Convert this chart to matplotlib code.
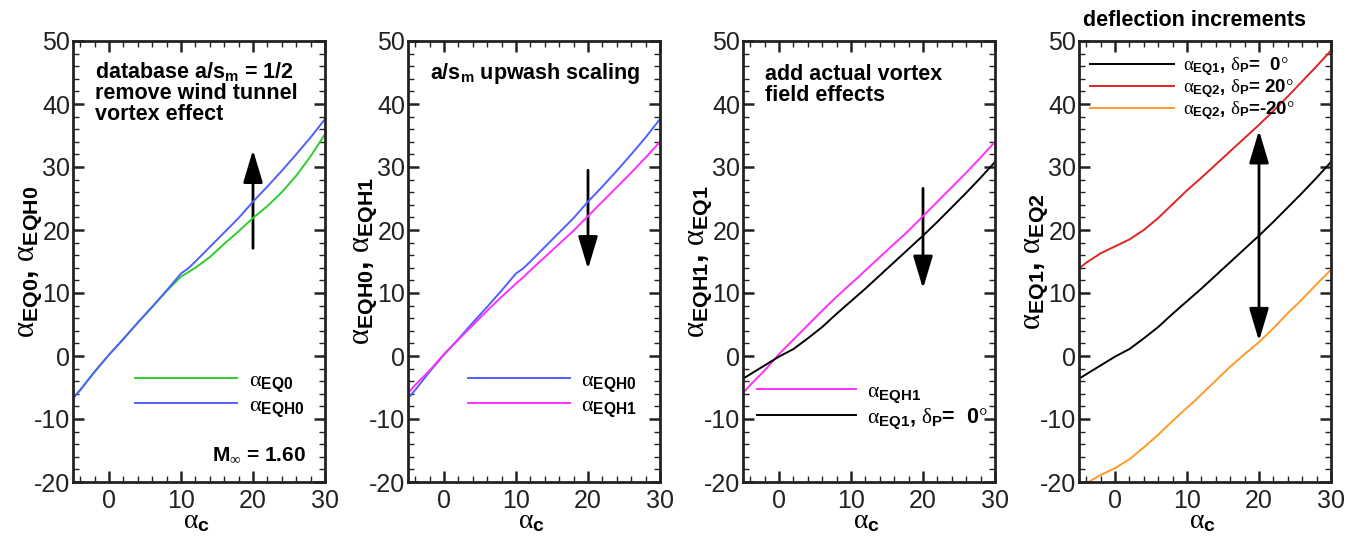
import matplotlib
matplotlib.use("Agg")
import matplotlib.pyplot as plt
from matplotlib.ticker import MultipleLocator
from matplotlib.patches import FancyArrowPatch

plt.rcParams["font.family"] = ["Liberation Sans", "DejaVu Sans"]
plt.rcParams["mathtext.fontset"] = "custom"
plt.rcParams["mathtext.rm"] = "Liberation Serif"
plt.rcParams["mathtext.it"] = "Liberation Serif:italic"
plt.rcParams["mathtext.bf"] = "Liberation Sans:bold"
plt.rcParams["mathtext.sf"] = "Liberation Sans"
plt.rcParams["axes.unicode_minus"] = False

# angle of attack sweep
alpha_c = [-5, -4, -2, 0, 2, 4, 6, 8, 10, 11, 12, 14, 16, 18, 20, 22, 24, 26, 28, 30]

a_eqh0 = [-6.7, -5.4, -2.5, 0.2, 2.7, 5.3, 7.8, 10.4, 13.1, 13.9, 15.0, 17.3,
          19.6, 21.9, 24.5, 26.9, 29.4, 32.0, 34.7, 37.6]
a_eq0 = [-6.7, -5.4, -2.5, 0.2, 2.7, 5.3, 7.8, 10.3, 12.6, 13.3, 14.0, 15.7,
         17.8, 19.8, 21.9, 23.8, 26.0, 28.6, 31.7, 35.2]
a_eqh1 = [-5.9, -4.6, -2.3, 0.3, 2.6, 4.9, 7.2, 9.4, 11.5, 12.5, 13.6, 15.7,
          17.8, 19.9, 22.2, 24.5, 26.8, 29.1, 31.5, 34.0]
a_eq1 = [-3.6, -2.9, -1.5, -0.1, 1.1, 2.8, 4.6, 6.7, 8.7, 9.7, 10.7, 12.8,
         14.9, 17.0, 19.1, 21.3, 23.6, 25.9, 28.3, 30.8]
a_eq2_p20 = [13.9, 14.8, 16.3, 17.4, 18.5, 20.0, 21.9, 24.1, 26.3, 27.3, 28.3, 30.4,
             32.5, 34.6, 36.7, 38.9, 41.2, 43.6, 46.0, 48.5]
a_eq2_m20 = [-20.8, -20.2, -18.9, -17.8, -16.4, -14.5, -12.5, -10.3, -8.2, -7.2, -6.1, -3.9,
             -1.7, 0.3, 2.2, 4.4, 6.8, 9.0, 11.4, 13.7]

C_GREEN = "#2fcc2f"
C_BLUE = "#5060ff"
C_MAG = "#ff30ff"
C_RED = "#e02424"
C_ORANGE = "#ff9a2a"


def lab(sub):
    return r"$\mathrm{\alpha}_{\mathbf{%s}}$" % sub


def lab_d(sub, defl):
    # plain-text part of the label is drawn bold through the legend prop
    return (r"$\mathrm{\alpha}_{\mathbf{%s}}$, $\mathrm{\delta}_{\mathbf{P}}$=%s$\mathrm{°}$"
            % (sub, defl))


fig = plt.figure(figsize=(13.56, 5.37), dpi=100)
lefts = [73, 408, 743, 1079]
axes = [fig.add_axes([l / 1356, 1 - 482 / 537, 252 / 1356, 441 / 537]) for l in lefts]

for ax in axes:
    ax.set_xlim(-5, 30)
    ax.set_ylim(-20, 50)
    ax.xaxis.set_major_locator(MultipleLocator(10))
    ax.xaxis.set_minor_locator(MultipleLocator(2))
    ax.yaxis.set_major_locator(MultipleLocator(10))
    ax.yaxis.set_minor_locator(MultipleLocator(2))
    ax.tick_params(which="both", direction="in", top=True, right=True, labelsize=18, colors="#222222")
    ax.tick_params(which="major", length=8, width=1.8)
    ax.tick_params(which="minor", length=4, width=1.0)
    ax.tick_params(axis="y", pad=2)
    ax.tick_params(axis="x", pad=5)
    for s in ax.spines.values():
        s.set_linewidth(2)
        s.set_color("#222222")
    ax.set_xlabel(r"$\mathrm{\alpha}_{\mathbf{c}}$", fontsize=20)
    ax.xaxis.set_label_coords(0.49, -0.06)


def arrow(ax, y0, y1, style="-|>"):
    ax.add_patch(FancyArrowPatch((20, y0), (20, y1), arrowstyle=style + ",head_length=1.0,head_width=0.3",
                                 mutation_scale=20, lw=2, color="black", shrinkA=0, shrinkB=0))


def set_ylab(ax, text):
    ax.set_ylabel(text, fontsize=22)
    ax.yaxis.set_label_coords(-0.115, 0.5)


leg_kw = dict(frameon=False, borderpad=0, borderaxespad=0,
              handletextpad=0.5, loc="upper left")

# panel 1
ax = axes[0]
ax.plot(alpha_c, a_eq0, color=C_GREEN, lw=1.4, label=lab("EQ0"))
ax.plot(alpha_c, a_eqh0, color=C_BLUE, lw=1.4, label=lab("EQH0"))
arrow(ax, 17.1, 32.7)
ax.legend(bbox_to_anchor=(0.247, 0.254), labelspacing=0.05, handlelength=4.6,
          prop={"size": 16, "weight": "bold"}, **leg_kw)
set_ylab(ax, lab("EQ0") + "$\\mathbf{,}$ " + lab("EQH0"))
ax.text(0.088, 0.957, "database a/s$_\\mathregular{m}$ = 1/2\nremove wind tunnel\nvortex effect",
        transform=ax.transAxes, fontsize=15.5, fontweight="bold", va="top", linespacing=1.0)
ax.text(0.55, 0.05, "M$_\\infty$ = 1.60", transform=ax.transAxes, fontsize=15,
        fontweight="bold", va="baseline")

# panel 2
ax = axes[1]
ax.plot(alpha_c, a_eqh0, color=C_BLUE, lw=1.4, label=lab("EQH0"))
ax.plot(alpha_c, a_eqh1, color=C_MAG, lw=1.4, label=lab("EQH1"))
arrow(ax, 29.5, 13.8)
ax.legend(bbox_to_anchor=(0.238, 0.254), labelspacing=0.05, handlelength=4.6,
          prop={"size": 16, "weight": "bold"}, **leg_kw)
set_ylab(ax, lab("EQH0") + "$\\mathbf{,}$ " + lab("EQH1"))
ax.text(0.087, 0.955, "a/s$_\\mathregular{m}$ upwash scaling", transform=ax.transAxes,
        fontsize=15.5, fontweight="bold", va="top")

# panel 3
ax = axes[2]
ax.plot(alpha_c, a_eqh1, color=C_MAG, lw=1.4, label=lab("EQH1"))
ax.plot(alpha_c, a_eq1, color="black", lw=1.4, label=lab_d("EQ1", "\u00a0\u00a00"))
arrow(ax, 26.6, 10.7)
ax.legend(bbox_to_anchor=(0.056, 0.229), labelspacing=0.05, handlelength=4.6,
          prop={"size": 15.5, "weight": "bold"}, **leg_kw)
set_ylab(ax, lab("EQH1") + "$\\mathbf{,}$ " + lab("EQ1"))
ax.text(0.087, 0.948, "add actual vortex\nfield effects", transform=ax.transAxes,
        fontsize=15.5, fontweight="bold", va="top", linespacing=1.0)

# panel 4
ax = axes[3]
ax.plot(alpha_c, a_eq1, color="black", lw=1.4, label=lab_d("EQ1", "\u00a0\u00a00"))
ax.plot(alpha_c, a_eq2_p20, color=C_RED, lw=1.4, label=lab_d("EQ2", "\u00a020"))
ax.plot(alpha_c, a_eq2_m20, color=C_ORANGE, lw=1.4, label=lab_d("EQ2", "-20"))
arrow(ax, 19, 35.8)
arrow(ax, 19, 2.4)
ax.legend(bbox_to_anchor=(0.044, 0.967), labelspacing=-0.05, handlelength=4.45,
          prop={"size": 13.5, "weight": "bold"}, **leg_kw)
set_ylab(ax, lab("EQ1") + "$\\mathbf{,}$ " + lab("EQ2"))
ax.text(0.46, 1.035, "deflection increments", transform=ax.transAxes, fontsize=15.5,
        fontweight="bold", ha="center", va="baseline")

fig.savefig("out.png", dpi=100)
